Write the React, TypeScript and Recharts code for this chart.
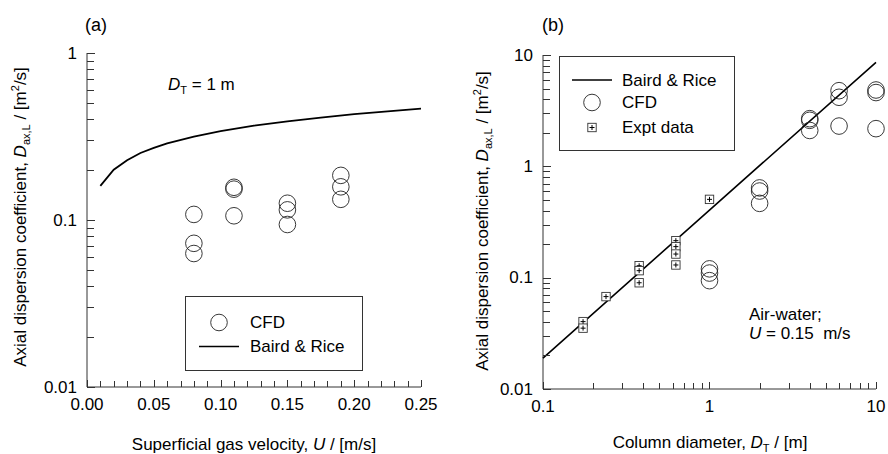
import React from 'react';
import { ScatterChart, Scatter, XAxis, YAxis } from 'recharts';

const FONT = '"Liberation Sans", Arial, Helvetica, sans-serif';

// panel (a): D_T = 1 m, Baird & Rice vs CFD
const baU = [0.01, 0.02, 0.03, 0.04, 0.05, 0.06, 0.08, 0.1, 0.125, 0.15, 0.175, 0.2, 0.225, 0.25];
const baD = [0.16, 0.2, 0.228, 0.252, 0.27, 0.288, 0.316, 0.341, 0.367, 0.39, 0.41, 0.43, 0.447, 0.465];
const cfdAU = [0.08, 0.08, 0.08, 0.11, 0.11, 0.11, 0.15, 0.15, 0.15, 0.19, 0.19, 0.19];
const cfdAD = [0.108, 0.0725, 0.063, 0.157, 0.153, 0.106, 0.126, 0.115, 0.094, 0.185, 0.158, 0.133];

// panel (b): U = 0.15 m/s, vs column diameter
const bbDT = [0.1, 1, 10];
const bbD = [0.0189, 0.405, 8.6];
const cfdBDT = [1, 1, 1, 2, 2, 2, 4, 4, 4, 6, 6, 6, 10, 10, 10];
const cfdBD = [0.12, 0.11, 0.094, 0.64, 0.6, 0.465, 2.68, 2.59, 2.1, 4.78, 4.17, 2.3, 4.85, 4.6, 2.18];
const exptDT = [0.174, 0.174, 0.239, 0.378, 0.378, 0.378, 0.628, 0.628, 0.628, 0.628, 1.0];
const exptD = [0.0403, 0.0352, 0.0676, 0.128, 0.1156, 0.09, 0.215, 0.19, 0.163, 0.13, 0.505];

// axis ticks
const xTicksA = [0, 0.01, 0.02, 0.03, 0.04, 0.05, 0.06, 0.07, 0.08, 0.09, 0.1, 0.11, 0.12, 0.13, 0.14, 0.15, 0.16, 0.17, 0.18, 0.19, 0.2, 0.21, 0.22, 0.23, 0.24, 0.25];
const xLabelsA: Record<string, string> = { '0': '0.00', '0.05': '0.05', '0.1': '0.10', '0.15': '0.15', '0.2': '0.20', '0.25': '0.25' };
const yTicksA = [0.01, 0.02, 0.03, 0.04, 0.05, 0.06, 0.07, 0.08, 0.09, 0.1, 0.2, 0.3, 0.4, 0.5, 0.6, 0.7, 0.8, 0.9, 1];
const yLabelsA: Record<string, string> = { '0.01': '0.01', '0.1': '0.1', '1': '1' };
const xTicksB = [0.1, 0.2, 0.3, 0.4, 0.5, 0.6, 0.7, 0.8, 0.9, 1, 2, 3, 4, 5, 6, 7, 8, 9, 10];
const xLabelsB: Record<string, string> = { '0.1': '0.1', '1': '1', '10': '10' };
const yTicksB = [0.01, 0.02, 0.03, 0.04, 0.05, 0.06, 0.07, 0.08, 0.09, 0.1, 0.2, 0.3, 0.4, 0.5, 0.6, 0.7, 0.8, 0.9, 1, 2, 3, 4, 5, 6, 7, 8, 9, 10];
const yLabelsB: Record<string, string> = { '0.01': '0.01', '0.1': '0.1', '1': '1', '10': '10' };

const toPts = (xs: number[], ys: number[]) => xs.map((x, i) => ({ x, y: ys[i] }));

// plot boxes (svg coords)
const A = { left: 87, top: 53, bottom: 387 };
const B = { left: 99, top: 55, bottom: 389 };

// ticks are drawn here, pointing into the plot like the original
const yTick = (left: number, labels: Record<string, string>) => (p: any) => {
    const lab = labels[String(p.payload.value)];
    const y = Math.round(p.y) + 0.5;
    return (
        <g>
            <path d={`M${left},${y}H${left + (lab ? 8 : 7)}`} stroke="#333" strokeWidth={1} fill="none" />
            {lab && (
                <text x={left - 10} y={p.y} textAnchor="end" dominantBaseline="central" fontSize={17} fill="#000" fontFamily={FONT}>
                    {lab}
                </text>
            )}
        </g>
    );
};

const xTick = (bottom: number, labels: Record<string, string>) => (p: any) => {
    const lab = labels[String(p.payload.value)];
    const x = Math.round(p.x) + 0.5;
    return (
        <g>
            <path d={`M${x},${bottom}V${bottom - (lab ? 7 : 6)}`} stroke="#333" strokeWidth={1} fill="none" />
            {lab && (
                <text x={p.x} y={bottom + 17} textAnchor="middle" dominantBaseline="central" fontSize={17} fill="#000" fontFamily={FONT}>
                    {lab}
                </text>
            )}
        </g>
    );
};

const Ring = (p: any) => <circle cx={p.cx} cy={p.cy} r={8.3} fill="none" stroke="#222" strokeWidth={0.9} />;

const Box = (p: any) => (
    <g>
        <rect x={p.cx - 4.2} y={p.cy - 4.2} width={8.4} height={8.4} fill="#fff" stroke="#333" strokeWidth={0.9} />
        <line x1={p.cx - 2.5} x2={p.cx + 2.5} y1={p.cy} y2={p.cy} stroke="#000" strokeWidth={1} />
        <line x1={p.cx} x2={p.cx} y1={p.cy - 2.5} y2={p.cy + 2.5} stroke="#000" strokeWidth={1} />
    </g>
);

const NoDot = () => <g />;

const txt = (left: number, cy: number, children: React.ReactNode, size = 17) => (
    <div style={{ position: 'absolute', left, top: cy - 10, lineHeight: '20px', fontSize: size, whiteSpace: 'pre' }}>{children}</div>
);

const sub = (s: string) => <span style={{ fontSize: 11, verticalAlign: -4 }}>{s}</span>;
const sup = (s: string) => <span style={{ fontSize: 11, verticalAlign: 7 }}>{s}</span>;

const yTitle = (cx: number, cy: number) => (
    <div
        style={{
            position: 'absolute', left: cx, top: cy, whiteSpace: 'nowrap', fontSize: 17, lineHeight: '20px',
            transform: 'translate(-50%, -50%) rotate(-90deg)'
        }}
    >
        Axial dispersion coefficient, <i>D</i>{sub('ax,L')} / [m{sup('2')}/s]
    </div>
);

const xTitle = (cx: number, cy: number, children: React.ReactNode) => (
    <div style={{ position: 'absolute', left: cx, top: cy, whiteSpace: 'nowrap', fontSize: 17, lineHeight: '20px', transform: 'translate(-50%, -50%)' }}>
        {children}
    </div>
);

const axisLineStyle = { stroke: '#333', strokeWidth: 1 };

export default function App() {
    return (
        <div style={{ position: 'absolute', left: 0, top: 0, width: 888, height: 454, background: '#fff', fontFamily: FONT, color: '#000' }}>
            <div style={{ position: 'absolute', left: 0, top: 0 }}>
                <ScatterChart width={444} height={454} margin={{ top: 53, right: 23, bottom: 37, left: 47 }}>
                    <XAxis type="number" dataKey="x" domain={[0, 0.25]} ticks={xTicksA} interval={0} height={30}
                        axisLine={axisLineStyle} tickLine={false} tick={xTick(A.bottom, xLabelsA)} />
                    <YAxis type="number" dataKey="y" scale="log" domain={[0.01, 1]} ticks={yTicksA} interval={0} width={40}
                        axisLine={axisLineStyle} tickLine={false} tick={yTick(A.left, yLabelsA)} />
                    <Scatter data={toPts(baU, baD)} line={{ stroke: '#000', strokeWidth: 1.8 }} shape={NoDot} isAnimationActive={false} />
                    <Scatter data={toPts(cfdAU, cfdAD)} shape={Ring} isAnimationActive={false} />
                </ScatterChart>
            </div>
            <div style={{ position: 'absolute', left: 444, top: 0 }}>
                <ScatterChart width={444} height={454} margin={{ top: 55, right: 12, bottom: 35, left: 59 }}>
                    <XAxis type="number" dataKey="x" scale="log" domain={[0.1, 10]} ticks={xTicksB} interval={0} height={30}
                        axisLine={axisLineStyle} tickLine={false} tick={xTick(B.bottom, xLabelsB)} />
                    <YAxis type="number" dataKey="y" scale="log" domain={[0.01, 10]} ticks={yTicksB} interval={0} width={40}
                        axisLine={axisLineStyle} tickLine={false} tick={yTick(B.left, yLabelsB)} />
                    <Scatter data={toPts(bbDT, bbD)} line={{ stroke: '#000', strokeWidth: 1.6 }} shape={NoDot} isAnimationActive={false} />
                    <Scatter data={toPts(exptDT, exptD)} shape={Box} isAnimationActive={false} />
                    <Scatter data={toPts(cfdBDT, cfdBD)} shape={Ring} isAnimationActive={false} />
                </ScatterChart>
            </div>

            {/* legend (a) */}
            <svg style={{ position: 'absolute', left: 185, top: 296 }} width={179} height={76}>
                <rect x={0.5} y={0.5} width={177} height={74} fill="#fff" stroke="#333" />
                <circle cx={34} cy={26.5} r={8.3} fill="none" stroke="#222" strokeWidth={0.9} />
                <text x={65} y={26.5} dominantBaseline="central" fontSize={17} fontFamily={FONT}>CFD</text>
                <line x1={14} x2={54} y1={50.5} y2={50.5} stroke="#000" strokeWidth={1.5} />
                <text x={65} y={50.5} dominantBaseline="central" fontSize={17} fontFamily={FONT}>Baird &amp; Rice</text>
            </svg>

            {/* legend (b) */}
            <svg style={{ position: 'absolute', left: 559, top: 56 }} width={177} height={96}>
                <rect x={0.5} y={0.5} width={175} height={94} fill="#fff" stroke="#333" />
                <line x1={13} x2={53} y1={24} y2={24} stroke="#000" strokeWidth={1.5} />
                <text x={63} y={24} dominantBaseline="central" fontSize={17} fontFamily={FONT}>Baird &amp; Rice</text>
                <circle cx={33} cy={46.5} r={8.3} fill="none" stroke="#222" strokeWidth={0.9} />
                <text x={63} y={46.5} dominantBaseline="central" fontSize={17} fontFamily={FONT}>CFD</text>
                <rect x={28.8} y={67.3} width={8.4} height={8.4} fill="#fff" stroke="#333" strokeWidth={0.9} />
                <line x1={30.5} x2={35.5} y1={71.5} y2={71.5} stroke="#000" />
                <line x1={33} x2={33} y1={69} y2={74} stroke="#000" />
                <text x={63} y={71.5} dominantBaseline="central" fontSize={17} fontFamily={FONT}>Expt data</text>
            </svg>

            {txt(85, 25, '(a)', 18)}
            {txt(542, 25, '(b)', 18)}
            {txt(168, 85, <><i>D</i>{sub('T')} = 1 m</>)}
            {txt(749, 315, 'Air-water;')}
            {txt(749, 334, <><i>U</i> = 0.15  m/s</>)}

            {yTitle(20, 217)}
            {yTitle(482, 221)}
            {xTitle(254, 445, <>Superficial gas velocity, <i>U</i> / [m/s]</>)}
            {xTitle(710, 445, <>Column diameter, <i>D</i>{sub('T')} / [m]</>)}
        </div>
    );
}
